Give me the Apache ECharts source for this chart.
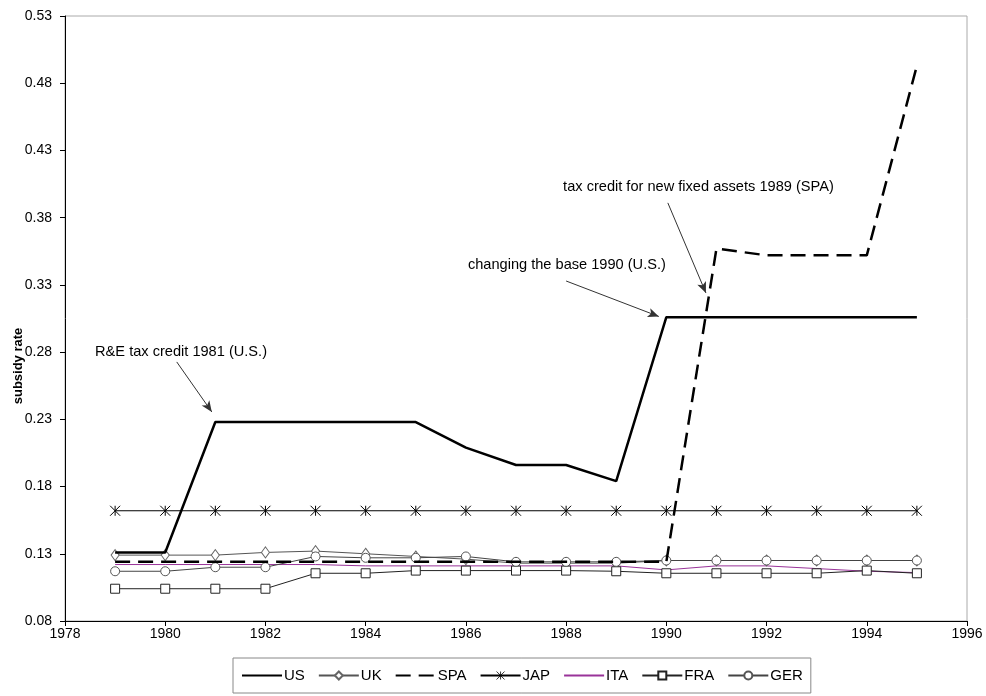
<!DOCTYPE html>
<html>
<head>
<meta charset="utf-8">
<script src="https://cdn.jsdelivr.net/npm/echarts@6/dist/echarts.min.js"></script>
<style>html,body{margin:0;padding:0;background:#fff}#c{width:986px;height:696px}</style>
</head>
<body>
<div id="c"></div>
<script>
const years = [1979,1980,1981,1982,1983,1984,1985,1986,1987,1988,1989,1990,1991,1992,1993,1994,1995];
const US  = [0.131,0.131,0.228,0.228,0.228,0.228,0.228,0.209,0.196,0.196,0.184,0.306,0.306,0.306,0.306,0.306,0.306];
const UK  = [0.129,0.129,0.129,0.131,0.132,0.130,0.128,0.126,0.123,0.123,0.123,0.125,0.125,0.125,0.125,0.125,0.125];
const SPA = [0.124,0.124,0.124,0.124,0.124,0.124,0.124,0.124,0.124,0.124,0.124,0.124,0.357,0.352,0.352,0.352,0.493];
const JAP = [0.162,0.162,0.162,0.162,0.162,0.162,0.162,0.162,0.162,0.162,0.162,0.162,0.162,0.162,0.162,0.162,0.162];
const ITA = [0.122,0.122,0.122,0.122,0.122,0.121,0.121,0.121,0.121,0.121,0.121,0.118,0.121,0.121,0.119,0.117,0.116];
const FRA = [0.104,0.104,0.104,0.104,0.1155,0.1155,0.1175,0.1175,0.1175,0.1175,0.117,0.1155,0.1155,0.1155,0.1155,0.1175,0.1155];
const GER = [0.117,0.117,0.120,0.120,0.128,0.127,0.127,0.128,0.124,0.124,0.124,0.125,0.125,0.125,0.125,0.125,0.125];

const annTexts = ['R&E tax credit 1981 (U.S.)', 'changing the base 1990 (U.S.)', 'tax credit for new fixed assets 1989 (SPA)'];
const annTextAt = [[1978.6, 0.280], [1986.04, 0.3448], [1987.94, 0.4028]];
const annArrows = [
  [[1980.23, 0.2727], [1980.93, 0.2355]],
  [[1988.00, 0.3329], [1989.85, 0.3065]],
  [[1990.03, 0.3910], [1990.79, 0.3240]]
];

const FONT = '"Liberation Sans", Arial, sans-serif';
const pair = arr => years.map((y, i) => [y, arr[i]]);
const asterisk = 'path://M0,0 L10,10 M10,0 L0,10 M5,0 L5,10';

const chart = echarts.init(document.getElementById('c'), null, {renderer: 'canvas'});
chart.setOption({
  animation: false,
  backgroundColor: '#fff',
  textStyle: {fontFamily: FONT},
  grid: {left: 65, right: 19, top: 16, bottom: 75, show: true, borderColor: '#aaa', borderWidth: 1},
  graphic: [{
    type: 'text', x: 18, y: 366, rotation: Math.PI / 2, silent: true,
    style: {text: 'subsidy rate', fill: '#000', font: 'bold 13px ' + FONT, textAlign: 'center', textVerticalAlign: 'middle'}
  }],
  xAxis: {
    type: 'value', min: 1978, max: 1996, interval: 2,
    axisLine: {lineStyle: {color: '#000', width: 1}},
    axisTick: {show: true, length: 5, lineStyle: {color: '#000'}},
    axisLabel: {color: '#000', fontSize: 14, fontFamily: FONT, margin: 6, formatter: v => String(v)},
    splitLine: {show: false}
  },
  yAxis: {
    type: 'value', min: 0.08, max: 0.53, interval: 0.05,
    axisLine: {show: true, lineStyle: {color: '#000', width: 1}},
    axisTick: {show: true, length: 5, lineStyle: {color: '#000'}},
    axisLabel: {color: '#000', fontSize: 14, fontFamily: FONT, margin: 13, formatter: v => v.toFixed(2)},
    splitLine: {show: false}
  },
  legend: {
    left: 233, bottom: 3,
    padding: [10, 8, 10, 8],
    borderColor: '#888', borderWidth: 1,
    itemWidth: 40, itemHeight: 10, itemGap: 13,
    textStyle: {color: '#000', fontSize: 15, fontFamily: FONT, padding: [0, 0, 0, -3]},
    data: [
      {name: 'US', itemStyle: {opacity: 0}},
      'UK',
      {name: 'SPA', itemStyle: {opacity: 0}},
      {name: 'JAP', itemStyle: {borderWidth: 0.8}},
      {name: 'ITA', itemStyle: {opacity: 0}},
      'FRA',
      'GER'
    ]
  },
  series: [
    {
      name: 'US', type: 'line', data: pair(US), symbol: 'none', z: 5,
      lineStyle: {color: '#000', width: 2.5}, itemStyle: {color: '#000'},
      markLine: {
        silent: true, symbol: ['none', 'arrow'], symbolSize: [7, 11],
        label: {show: false},
        lineStyle: {color: '#333', width: 1, type: 'solid'},
        data: annArrows.map(a => [{coord: a[0]}, {coord: a[1]}])
      },
      markPoint: {
        silent: true, symbol: 'circle', symbolSize: 0,
        label: {show: true, position: 'right', distance: 0, color: '#000', fontSize: 14.6, fontFamily: FONT,
                formatter: p => p.name},
        data: annTexts.map((t, i) => ({name: t, coord: annTextAt[i]}))
      }
    },
    {
      name: 'UK', type: 'line', data: pair(UK), symbol: 'diamond', symbolSize: [8, 11], z: 3,
      lineStyle: {color: '#555', width: 1}, itemStyle: {color: '#fff', borderColor: '#666', borderWidth: 1}
    },
    {
      name: 'SPA', type: 'line', data: pair(SPA), symbol: 'none', z: 4,
      lineStyle: {color: '#000', width: 2.5, type: [15, 8]}, itemStyle: {color: '#000'}
    },
    {
      name: 'JAP', type: 'line', data: pair(JAP), symbol: asterisk, symbolSize: 10, z: 3,
      lineStyle: {color: '#000', width: 1}, itemStyle: {color: 'rgba(0,0,0,0)', borderColor: '#000', borderWidth: 1}
    },
    {
      name: 'ITA', type: 'line', data: pair(ITA), symbol: 'none', z: 3,
      lineStyle: {color: '#993399', width: 1}, itemStyle: {color: '#993399'}
    },
    {
      name: 'FRA', type: 'line', data: pair(FRA), symbol: 'rect', symbolSize: 9, z: 3,
      lineStyle: {color: '#222', width: 1}, itemStyle: {color: '#fff', borderColor: '#222', borderWidth: 1}
    },
    {
      name: 'GER', type: 'line', data: pair(GER), symbol: 'circle', symbolSize: 9, z: 3,
      lineStyle: {color: '#444', width: 1}, itemStyle: {color: '#fff', borderColor: '#555', borderWidth: 1}
    }
  ]
});
</script>
</body>
</html>
